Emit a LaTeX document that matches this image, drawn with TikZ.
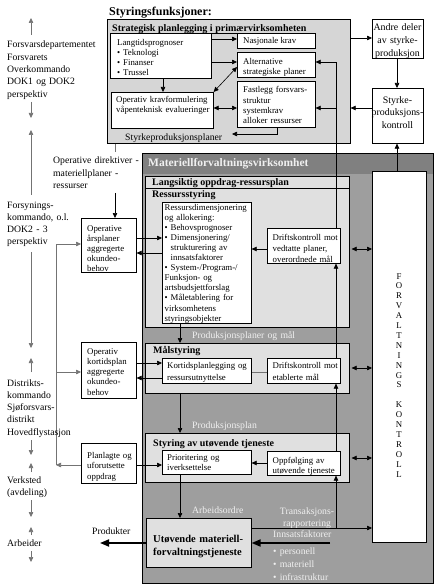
\documentclass[tikz,border=0pt]{standalone}
\usepackage{fontspec}
\setmainfont{Liberation Serif}
\usetikzlibrary{arrows.meta}
\definecolor{stratfill}{gray}{0.84}
\definecolor{matfill}{gray}{0.62}
\definecolor{headfill}{gray}{0.50}
\definecolor{lightbox}{gray}{0.88}
\definecolor{ontext}{gray}{0.94}
\definecolor{gln}{gray}{0.45}
\tikzset{
  bx/.style={draw=black, line width=0.6pt, fill=white, inner sep=0pt, anchor=north west},
  lbx/.style={bx, fill=lightbox},
  tx/.style={inner sep=0pt, anchor=base west, align=left, font=\fontsize{8.8}{10}\selectfont},
  ttl/.style={inner sep=0pt, anchor=base west, font=\bfseries\fontsize{10}{12}\selectfont},
  side/.style={inner sep=0pt, anchor=base west, align=left, text width=100pt, font=\fontsize{9.7}{12.3}\selectfont},
  ontx/.style={inner sep=0pt, anchor=base west, align=left, text width=120pt, text=ontext, font=\fontsize{9.7}{12.3}\selectfont},
  arr/.style={-{Triangle[length=5pt,width=4.5pt]}, line width=0.6pt},
  darr/.style={{Triangle[length=5pt,width=4.5pt]}-{Triangle[length=5pt,width=4.5pt]}, line width=0.6pt},
  garr/.style={-{Triangle[length=5pt,width=4.5pt]}, line width=0.6pt, draw=gln},
  gline/.style={line width=0.6pt, draw=gln},
  bigarr/.style={-{Triangle[length=9pt,width=7pt]}, line width=1.8pt},
}
\begin{document}
\begin{tikzpicture}[x=1pt,y=-1pt]
\path[use as bounding box, fill=white] (0,0) rectangle (436,585);

% ---------- Styringsfunksjoner ----------
\node[inner sep=0pt, anchor=base west, font=\bfseries\fontsize{12}{14}\selectfont] (hdr) at (109,16) {Styringsfunksjoner:};
\node[bx, fill=stratfill, minimum width=243pt, minimum height=124pt] (strat) at (107,19) {};
\node[ttl] (stratT) at (112,31.5) {Strategisk planlegging i primærvirksomheten};
\draw[line width=0.6pt] (stratT.base west) ++(0,1.5) -- (stratT.base east |- 0,33);
\node[bx, minimum width=101pt, minimum height=45pt] (lang) at (110,33) {};
\node[tx, text width=92pt, font=\fontsize{8.8}{9.7}\selectfont] (langT) at (117,46) {Langtidsprognoser\\• Teknologi\\• Finanser\\• Trussel};
\node[bx, minimum width=102pt, minimum height=36pt] (opkrav) at (111,92) {};
\node[tx, text width=96pt] (opkravT) at (116,103) {Operativ kravformulering\\våpenteknisk evalueringer};
\node[bx, minimum width=78pt, minimum height=15pt] (nasj) at (237,33) {};
\node[tx] (nasjT) at (243,44) {Nasjonale krav};
\node[bx, minimum width=78pt, minimum height=25pt] (alt) at (237,52) {};
\node[tx, text width=70pt] (altT) at (243,64.5) {Alternative\\strategiske planer};
\node[bx, minimum width=78pt, minimum height=46pt] (fast) at (237,81) {};
\node[tx, text width=72pt, font=\fontsize{8.8}{10.3}\selectfont] (fastT) at (243,93) {Fastlegg forsvars-\\struktur\\systemkrav\\alloker ressurser};
\node[inner sep=0pt, anchor=base west, font=\fontsize{9.7}{12}\selectfont] (spl) at (125,140.5) {Styrkeproduksjonsplaner};

\draw[arr] (lang.east |- 0,39) -- (nasj.west |- 0,39);
\draw[arr] (lang.east |- 0,62) -- (alt.west |- 0,62);
\draw[darr] (alt.west |- 0,67) -- (opkrav.north east);
\draw[darr] (opkrav.east |- 0,108) -- (fast.west |- 0,108);
\draw[arr] (lang.south -| 163,0) -- (opkrav.north -| 163,0);
\draw[arr] (fast.south -| 277,0) -- (277,134) -- (232,134);

% ---------- right top ----------
\node[bx, minimum width=51pt, minimum height=39pt] (andre) at (372,19) {};
\node[inner sep=0pt, anchor=base, text width=60pt, align=center, font=\fontsize{9.9}{13}\selectfont] (andreT) at (397.5,30.5) {Andre deler\\av styrke-\\produksjon};
\node[bx, minimum width=51pt, minimum height=55pt] (skontroll) at (372,88) {};
\node[inner sep=0pt, anchor=base, text width=60pt, align=center, font=\fontsize{9.9}{12.5}\selectfont] (skontrollT) at (397.5,103.5) {Styrke-\\produksjons-\\kontroll};
\draw[arr] (strat.east |- 0,38) -- (andre.west |- 0,38);
\draw[arr] (andre.south -| 397,0) -- (skontroll.north -| 397,0);
\draw[arr] (skontroll.west |- 0,108) -- (strat.east |- 0,108);

% ---------- Materiellforvaltningsvirksomhet ----------
\node[bx, fill=matfill, minimum width=291pt, minimum height=430pt] (mat) at (142,153) {};
\fill[headfill] (142,153) rectangle (433,174);
\draw[line width=0.6pt] (142,153) rectangle (433,583);
\node[inner sep=0pt, anchor=base west, text=ontext, font=\bfseries\fontsize{11.5}{14}\selectfont] (matT) at (148,167) {Materiellforvaltningsvirksomhet};

\node[lbx, minimum width=204pt, minimum height=151pt] (langs) at (145,176) {};
\node[ttl] (langsT) at (152,185.5) {Langsiktig oppdrag-ressursplan};
\draw[line width=0.6pt] (langs.west |- 0,188) -- (langs.east |- 0,188);
\node[ttl] (ressT) at (152,197.5) {Ressursstyring};
\node[bx, minimum width=89pt, minimum height=121pt] (ressdim) at (162,202) {};
\node[tx, text width=86pt, font=\fontsize{8.8}{10.1}\selectfont] (ressdimT) at (164.5,210) {Ressursdimensjonering\\og allokering:\\• Behovsprognoser\\• Dimensjonering/\\\hphantom{• }strukturering av\\\hphantom{• }innsatsfaktorer\\• System-/Program-/\\Funksjon- og\\artsbudsjettforslag\\• Måletablering for\\virksomhetens\\styringsobjekter};
\node[bx, minimum width=73pt, minimum height=35pt] (drift1) at (267,228) {};
\node[tx, text width=68pt, font=\fontsize{8.8}{11}\selectfont] (drift1T) at (272.5,240) {Driftskontroll mot\\vedtatte planer,\\overordnede mål};

\node[ontx] (pmT) at (192,338.5) {Produksjonsplaner og mål};

\node[lbx, minimum width=204pt, minimum height=50pt] (malstyr) at (145,343) {};
\node[ttl] (malT) at (153,353.5) {Målstyring};
\node[bx, minimum width=89pt, minimum height=25pt] (kort) at (162,358) {};
\node[tx, text width=84pt, font=\fontsize{8.8}{12}\selectfont] (kortT) at (167,368) {Kortidsplanlegging og\\ressursutnyttelse};
\node[bx, minimum width=73pt, minimum height=25pt] (drift2) at (267,358) {};
\node[tx, text width=68pt, font=\fontsize{8.8}{12}\selectfont] (drift2T) at (272.5,368) {Driftskontroll mot\\etablerte mål};

\node[ontx] (ppT) at (192,428.5) {Produksjonsplan};

\node[lbx, minimum width=204pt, minimum height=49pt] (styr) at (145,433) {};
\node[ttl] (styrT) at (153,446.5) {Styring av utøvende tjeneste};
\node[bx, minimum width=89pt, minimum height=24pt] (prior) at (162,450) {};
\node[tx, text width=84pt, font=\fontsize{8.8}{10}\selectfont] (priorT) at (167,460.5) {Prioritering og\\iverksettelse};
\node[bx, minimum width=73pt, minimum height=24pt] (oppf) at (267,451) {};
\node[tx, text width=68pt, font=\fontsize{8.8}{10.5}\selectfont] (oppfT) at (272.5,463) {Oppfølging av\\utøvende tjeneste};

\node[ontx] (aoT) at (192,513.5) {Arbeidsordre};

\node[lbx, minimum width=105pt, minimum height=49pt] (utov) at (146,518) {};
\node[inner sep=0pt, anchor=base west, align=left, text width=100pt, font=\bfseries\fontsize{10.5}{13}\selectfont] (utovT) at (153,542.5) {Utøvende materiell-\\forvaltningstjeneste};

\node[inner sep=0pt, anchor=base, text width=70pt, align=center, text=ontext, font=\fontsize{9.7}{11.5}\selectfont] (trT) at (307,514.5) {Transaksjons-\\rapportering};
\node[ontx] (inT) at (273,537.5) {Innsatsfaktorer};
\node[ontx, font=\fontsize{9.7}{13}\selectfont] (inL) at (273,554) {• personell\\• materiell\\• infrastruktur};

% FORVALTNINGSKONTROLL
\node[bx, minimum width=54pt, minimum height=371pt] (forv) at (372,171) {};
\node[inner sep=0pt, anchor=base, text width=20pt, align=center, font=\fontsize{8.8}{9.9}\selectfont] (forvT) at (399,279) {F\\O\\R\\V\\A\\L\\T\\N\\I\\N\\G\\S\\[9.9pt]K\\O\\N\\T\\R\\O\\L\\L};
\draw[arr] (forv.north -| 397,0) -- (skontroll.south -| 397,0);

% connectors inside Materiell
\draw[arr] (drift1.west |- 0,249) -- (ressdim.east |- 0,249);
\draw[gline] (drift2.west |- 0,372) -- (kort.east |- 0,372);
\draw[arr] (oppf.west |- 0,463) -- (prior.east |- 0,463);
\draw[arr] (ressdim.south -| 180,0) -- (malstyr.north -| 180,0);
\draw[arr] (malstyr.south -| 180,0) -- (styr.north -| 180,0);
\draw[arr] (prior.south -| 180,0) -- (utov.north -| 180,0);
\draw[darr, shorten <=2pt] (langs.east |- 0,249) -- (forv.west |- 0,249);
\draw[darr, shorten <=2pt] (malstyr.east |- 0,368) -- (forv.west |- 0,368);
\draw[darr, shorten <=2pt] (styr.east |- 0,458) -- (forv.west |- 0,458);
\draw[arr] (utov.east |- 0,528) -- (forv.west |- 0,528);
\draw[arr] (336,528) -- (oppf.south -| 336,0);
\draw[arr] (oppf.north -| 336,0) -- (drift2.south -| 336,0);
\draw[arr] (drift2.north -| 336,0) -- (drift1.south -| 336,0);
\draw[arr] (drift1.north -| 336,0) -- (336,62) -- (alt.east |- 0,62);
\draw[arr] (336,108) -- (fast.east |- 0,108);
\draw[bigarr] (330,543) -- (utov.east |- 0,543);
\draw[bigarr] (utov.west |- 0,543) -- (100,543);
\node[inner sep=0pt, anchor=base west, font=\fontsize{9.7}{12}\selectfont] (prodT) at (92,534) {Produkter};

% ---------- left boxes ----------
\node[side] (opdir) at (53,164) {Operative direktiver -\\materiellplaner -\\ressurser};
\draw[gline] (strat.south -| 115,0) -- (115,152);
\draw[arr] (115,193) -- (115,218);

\node[bx, minimum width=55pt, minimum height=54pt] (arsplan) at (81,218) {};
\node[tx, text width=50pt] (arsplanT) at (87,231) {Operative\\årsplaner\\aggregerte\\okundeo-\\behov};
\node[bx, minimum width=55pt, minimum height=56pt] (kortplan) at (81,342) {};
\node[tx, text width=50pt, font=\fontsize{8.8}{10.3}\selectfont] (kortplanT) at (87,354) {Operativ\\kortidsplan\\aggregerte\\okundeo-\\behov};
\node[bx, minimum width=55pt, minimum height=40pt] (planl) at (81,443) {};
\node[tx, text width=50pt, font=\fontsize{8.8}{10.7}\selectfont] (planlT) at (87,458) {Planlagte og\\uforutsette\\oppdrag};

\draw[arr] (arsplan.east |- 0,238) -- (ressdim.west |- 0,238);
\draw[arr] (ressdim.west |- 0,253) -- (arsplan.east |- 0,253);
\draw[arr] (kortplan.east |- 0,363) -- (kort.west |- 0,363);
\draw[arr] (kort.west |- 0,378) -- (kortplan.east |- 0,378);
\draw[arr] (planl.east |- 0,465) -- (prior.west |- 0,465);
\draw[garr] (planl.west |- 0,465) -- (56,465);
\draw[garr] (56,465) -- (56,244) -- (arsplan.west |- 0,244);
\draw[garr] (56,372) -- (kortplan.west |- 0,372);

% ---------- left column ----------
\node[side] (lA) at (7,48) {Forsvarsdepartementet\\Forsvarets\\Overkommando\\DOK1 og DOK2\\perspektiv};
\node[side] (lB) at (7,208) {Forsynings-\\kommando, o.l.\\DOK2 - 3\\perspektiv};
\node[side] (lC) at (7,386) {Distrikts-\\kommando\\Sjøforsvars-\\distrikt\\Hovedflystasjon};
\node[side] (lD) at (7,483) {Verksted\\(avdeling)};
\node[side] (lE) at (7,546) {Arbeider};
\draw[garr] (31,35) -- (31,18);
\draw[garr] (31,102) -- (31,118);
\draw[garr] (31,195) -- (31,130);
\draw[garr] (31,252) -- (31,348);
\draw[garr] (31,372) -- (31,358);
\draw[garr] (31,440) -- (31,455);
\draw[garr] (31,472) -- (31,463);
\draw[garr] (31,500) -- (31,517);
\draw[garr] (31,535) -- (31,527);
\draw[garr] (31,551) -- (31,562);
\end{tikzpicture}
\end{document}
